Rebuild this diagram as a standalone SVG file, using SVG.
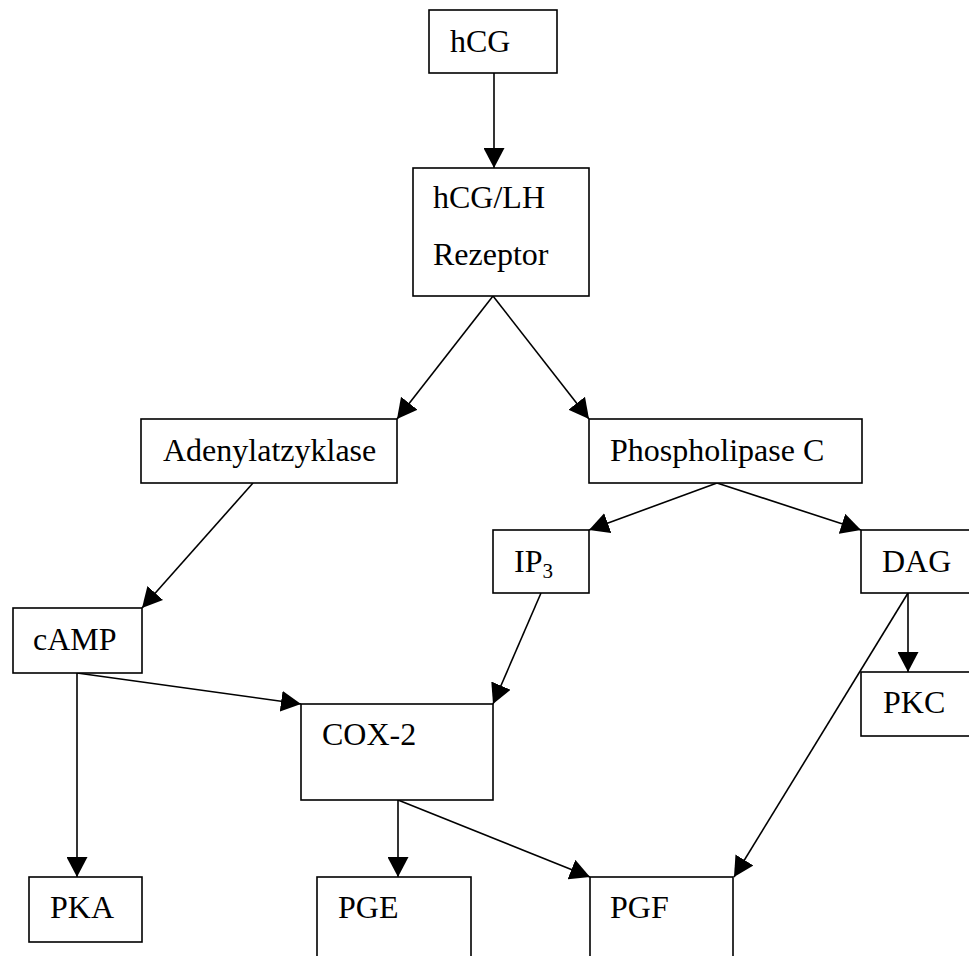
<svg xmlns="http://www.w3.org/2000/svg" width="969" height="956" viewBox="0 0 969 956">
<style>
.box{fill:#fff;stroke:#000;stroke-width:1.6}
.t{font-family:"Liberation Serif","Times New Roman",serif;font-size:32px;fill:#000}
.c{stroke:#000;stroke-width:1.6;fill:none;marker-end:url(#ah)}
</style>
<defs>
<marker id="ah" markerUnits="userSpaceOnUse" markerWidth="21" markerHeight="21" refX="20" refY="10.5" orient="auto">
<path d="M0,0 L20,10.5 L0,21 Z" fill="#000"/>
</marker>
</defs>
<rect width="969" height="956" fill="#fff"/>
<g id="connectors">
<line class="c" x1="494" y1="73" x2="494" y2="168"/>
<line class="c" x1="493" y1="296" x2="397" y2="419"/>
<line class="c" x1="493" y1="296" x2="589" y2="419"/>
<line class="c" x1="253" y1="483" x2="142" y2="608"/>
<line class="c" x1="717" y1="483" x2="589" y2="530"/>
<line class="c" x1="717" y1="483" x2="861" y2="530"/>
<line class="c" x1="541" y1="593" x2="493" y2="704"/>
<line class="c" x1="908" y1="593" x2="908" y2="672"/>
<line class="c" x1="908" y1="593" x2="734" y2="877"/>
<line class="c" x1="77" y1="673" x2="301" y2="704"/>
<line class="c" x1="77" y1="673" x2="77" y2="877"/>
<line class="c" x1="398" y1="800" x2="398" y2="877"/>
<line class="c" x1="398" y1="800" x2="590" y2="877"/>
</g>
<g id="hCG"><rect class="box" x="429" y="10" width="128" height="63"/><text class="t" x="450" y="52">hCG</text></g>
<g id="rezeptor"><rect class="box" x="413" y="168" width="176" height="128"/><text class="t" x="433" y="208">hCG/LH</text><text class="t" x="433" y="265">Rezeptor</text></g>
<g id="adenylatzyklase"><rect class="box" x="141" y="419" width="256" height="64"/><text class="t" x="163" y="461">Adenylatzyklase</text></g>
<g id="phospholipase"><rect class="box" x="589" y="419" width="273" height="64"/><text class="t" x="610" y="461">Phospholipase C</text></g>
<g id="ip3"><rect class="box" x="493" y="530" width="96" height="63"/><text class="t" x="514" y="572">IP<tspan font-size="21" dy="6">3</tspan></text></g>
<g id="dag"><rect class="box" x="861" y="530" width="140" height="63"/><text class="t" x="882" y="572">DAG</text></g>
<g id="camp"><rect class="box" x="13" y="608" width="129" height="65"/><text class="t" x="33" y="650">cAMP</text></g>
<g id="pkc"><rect class="box" x="861" y="672" width="140" height="64"/><text class="t" x="883" y="713">PKC</text></g>
<g id="cox2"><rect class="box" x="301" y="704" width="192" height="96"/><text class="t" x="322" y="745">COX-2</text></g>
<g id="pka"><rect class="box" x="29" y="877" width="113" height="65"/><text class="t" x="50" y="918">PKA</text></g>
<g id="pge"><rect class="box" x="317" y="877" width="154" height="100"/><text class="t" x="338" y="918">PGE</text></g>
<g id="pgf"><rect class="box" x="590" y="877" width="143" height="100"/><text class="t" x="610" y="918">PGF</text></g>
</svg>
